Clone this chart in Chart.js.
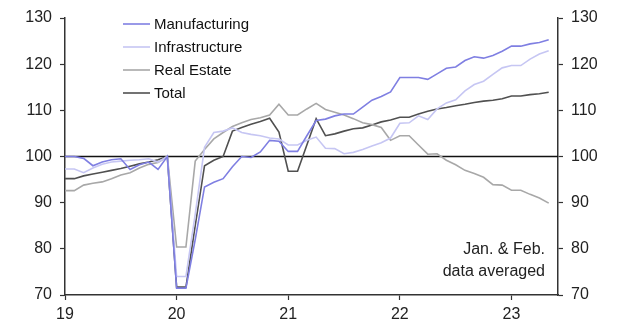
<!DOCTYPE html>
<html>
<head>
<meta charset="utf-8">
<script src="https://cdn.jsdelivr.net/npm/chart.js@4"></script>
<style>
  html, body { margin: 0; padding: 0; background: #fff; }
  #wrap { width: 617px; height: 320px; }
</style>
</head>
<body>
<div id="wrap"><canvas id="chart" width="617" height="320"></canvas></div>
<script>
// monthly categories Jan 2019 .. Jun 2023 (last one is the axis end)
const months = [];
for (let y = 2019; y <= 2023; y++) {
  for (let m = 1; m <= 12; m++) months.push(y + '-' + String(m).padStart(2, '0'));
}
months.length = 54;

const yTicks = [70, 80, 90, 100, 110, 120, 130];

const manufacturing = [
  100, 100, 99.6, 98, 98.8, 99.3, 99.5, 97.2, 98.2, 98.8, 97.2, 100,
  71.5, 71.5, 82, 93.4, 94.4, 95.2, 97.8, 100, 99.8, 101, 103.5, 103.3,
  101.1, 101.1, 104.5, 107.8, 108.1, 108.8, 109.2, 109.2, 110.7, 112.2, 113, 114,
  117.1, 117.1, 117.1, 116.7, 117.9, 119.1, 119.4, 120.8, 121.6, 121.3, 121.9, 122.8,
  123.9, 123.9, 124.4, 124.7, 125.3
];
const infrastructure = [
  97.3, 97.3, 96.5, 97.5, 98.3, 98.8, 99, 99.2, 99.3, 99.5, 98.8, 100,
  74, 74, 87.5, 102, 105.2, 105.5, 106.2, 105.2, 104.8, 104.5, 104, 103.8,
  102.5, 102.5, 103.5, 104.2, 101.8, 101.7, 100.6, 100.9, 101.5, 102.3, 103, 104,
  107.2, 107.3, 108.8, 108, 110.3, 111.6, 112.3, 114.2, 115.6, 116.3, 117.8, 119.2,
  119.7, 119.7, 121.1, 122.2, 122.9
];
const realEstate = [
  92.6, 92.6, 93.8, 94.2, 94.5, 95.2, 96, 96.5, 97.5, 98.3, 98.7, 100,
  80.4, 80.4, 99, 101.5, 103.8, 105.2, 106.5, 107.3, 108, 108.4, 109, 111.3,
  109, 109, 110.3, 111.5, 110.2, 109.6, 109, 108.2, 107.3, 106.9, 106.3, 103.5,
  104.5, 104.5, 102.5, 100.5, 100.6, 99.2, 98.2, 97, 96.3, 95.5, 93.9, 93.8,
  92.7, 92.7, 91.8, 91, 89.9
];
const total = [
  95.2, 95.2, 95.8, 96.2, 96.6, 97, 97.4, 97.9, 98.4, 98.8, 99.3, 100,
  71.7, 71.7, 85, 98, 99.2, 100, 105.5, 106.3, 107, 107.6, 108.3, 105.3,
  96.8, 96.8, 102.5, 108.2, 104.5, 104.9, 105.5, 106, 106.2, 106.8, 107.5, 107.9,
  108.5, 108.5, 109.2, 109.8, 110.3, 110.6, 111, 111.3, 111.7, 112, 112.2, 112.5,
  113.1, 113.1, 113.4, 113.6, 113.9
];

const FONT = 'Liberation Sans, Arial, sans-serif';
const AXIS = '#333';

function line(label, data, color) {
  return { label: label, data: data, borderColor: color, borderWidth: 1.6,
           pointRadius: 0, tension: 0, fill: false };
}

// reference line at 100
const baseLine = {
  id: 'baseLine',
  beforeDatasetsDraw(chart) {
    const { ctx, chartArea, scales } = chart;
    const y = scales.y.getPixelForValue(100);
    ctx.save();
    ctx.strokeStyle = '#111';
    ctx.lineWidth = 1.5;
    ctx.beginPath();
    ctx.moveTo(chartArea.left, y);
    ctx.lineTo(chartArea.right, y);
    ctx.stroke();
    ctx.restore();
  }
};

// legend drawn inside the plot, top left
const insideLegend = {
  id: 'insideLegend',
  afterDraw(chart) {
    const { ctx, chartArea } = chart;
    ctx.save();
    ctx.font = '15px ' + FONT;
    ctx.textBaseline = 'middle';
    chart.data.datasets.forEach(function(ds, i) {
      const y = chartArea.top + 6 + i * 23;
      const x = chartArea.left + 58;
      ctx.strokeStyle = ds.borderColor;
      ctx.lineWidth = 1.6;
      ctx.beginPath();
      ctx.moveTo(x, y);
      ctx.lineTo(x + 27, y);
      ctx.stroke();
      ctx.fillStyle = '#111';
      ctx.fillText(ds.label, x + 31, y + 1);
    });
    // note
    ctx.font = '16px ' + FONT;
    ctx.textAlign = 'right';
    ctx.fillStyle = '#222';
    ctx.fillText('Jan. & Feb.', chartArea.right - 13, chartArea.bottom - 45);
    ctx.fillText('data averaged', chartArea.right - 13, chartArea.bottom - 23);
    ctx.restore();
  }
};

const yScale = function(pos, width) {
  return {
    type: 'linear',
    position: pos,
    display: true,
    min: 70,
    max: 130,
    afterBuildTicks: function(s) { s.ticks = yTicks.map(v => ({ value: v })); },
    afterFit: function(s) { s.width = width; },
    grid: { drawOnChartArea: false, tickLength: 5, tickColor: AXIS, tickWidth: 1.2 },
    border: { color: AXIS, width: 1.5 },
    ticks: { color: '#222', font: { family: FONT, size: 16 }, padding: 8 }
  };
};

new Chart(document.getElementById('chart').getContext('2d'), {
  type: 'line',
  data: {
    labels: months,
    datasets: [
      line('Manufacturing', manufacturing, '#7f7fe2'),
      line('Infrastructure', infrastructure, '#c6c6f3'),
      line('Real Estate', realEstate, '#a8a8a8'),
      line('Total', total, '#505050')
    ]
  },
  options: {
    responsive: false,
    animation: false,
    layout: { padding: { top: 18, right: 0, bottom: 0, left: 0 } },
    plugins: {
      legend: { display: false },
      tooltip: { enabled: false }
    },
    scales: {
      x: {
        type: 'category',
        offset: false,
        afterFit: function(s) { s.height = 25; },
        grid: {
          drawOnChartArea: false,
          tickLength: 5,
          tickWidth: 1.2,
          tickColor: function(c) {
            const lab = months[c.index];
            return lab && lab.endsWith('-01') ? AXIS : 'rgba(0,0,0,0)';
          }
        },
        border: { color: AXIS, width: 1.5 },
        ticks: {
          autoSkip: false,
          maxRotation: 0,
          padding: 5,
          color: '#222',
          font: { family: FONT, size: 16 },
          callback: function(v, i) {
            const lab = months[i];
            return lab.endsWith('-01') ? lab.slice(2, 4) : '';
          }
        }
      },
      y: yScale('left', 65),
      y2: yScale('right', 59)
    }
  },
  plugins: [baseLine, insideLegend]
});
</script>
</body>
</html>
